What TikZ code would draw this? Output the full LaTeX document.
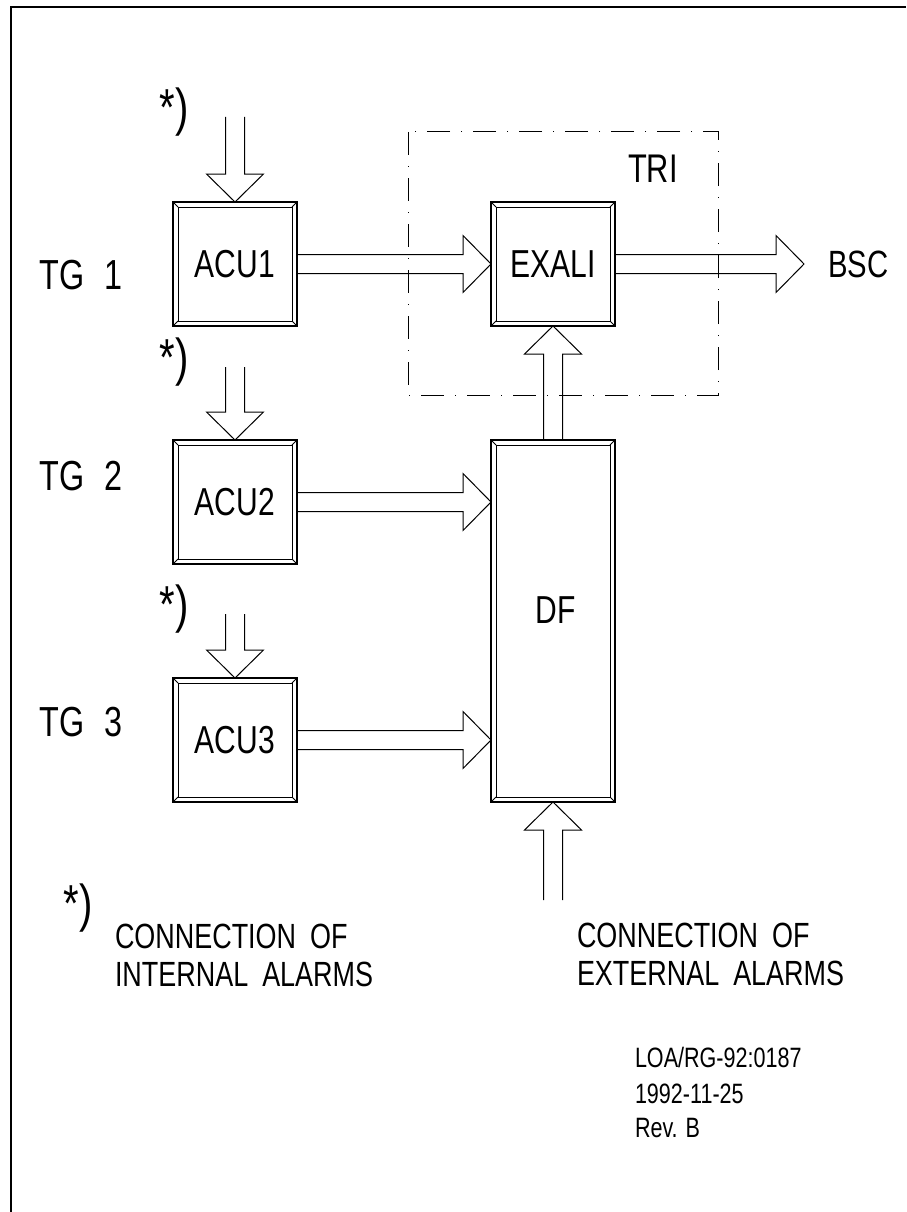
\documentclass[tikz,border=0pt]{standalone}
\usepackage{fontspec}
\setmainfont{Liberation Sans}[FakeStretch=0.77]
\usetikzlibrary{calc}

\tikzset{
  cadbox/.style={draw, line width=1.6pt, minimum width=124pt, minimum height=124pt,
    inner sep=0pt, outer sep=0pt, font=\fontsize{39}{39}\selectfont},
  lbl/.style={inner sep=0pt, outer sep=0pt},
  biglbl/.style={lbl, font=\fontsize{42}{42}\selectfont},
  midlbl/.style={lbl, font=\fontsize{35}{35}\selectfont},
  smalllbl/.style={lbl, font=\fontsize{28}{28}\selectfont},
}

% hollow block arrow from #1 to #2
\newcommand{\fatarrow}[2]{%
  \coordinate (fa-s) at (#1);
  \coordinate (fa-e) at (#2);
  \coordinate (fa-b) at ($(fa-e)!28pt!(fa-s)$);
  \draw ($(fa-s)!9.5pt!90:(fa-e)$) -- ($(fa-b)!9.5pt!90:(fa-e)$)
    -- ($(fa-b)!28.5pt!90:(fa-e)$) -- (fa-e) -- ($(fa-b)!28.5pt!-90:(fa-e)$)
    -- ($(fa-b)!9.5pt!-90:(fa-e)$) -- ($(fa-s)!9.5pt!-90:(fa-e)$);
}

\begin{document}
\begin{tikzpicture}[x=1pt,y=-1pt,line width=1pt]
\useasboundingbox (0,0) rectangle (906,1212);

% frame
\draw[line width=2.6pt] (11,1212) -- (11,7) -- (906,7);

% TRI area
\draw[dash pattern=on 23pt off 11pt on 1pt off 11pt] (408,132) rectangle (718,395);
\node[lbl, anchor=base west, font=\fontsize{40}{40}\selectfont] (tri) at (628,182) {TRI};

% boxes
\node[cadbox] (acu1) at (235,264) {ACU1};
\node[cadbox] (acu2) at (235,502) {ACU2};
\node[cadbox] (acu3) at (235,740) {ACU3};
\node[cadbox] (exali) at (553,264) {EXALI};
\node[cadbox, minimum height=362pt] (df) at (553,621) {};
\node[lbl, font=\fontsize{39}{39}\selectfont] (dftext) at (556,610) {DF};

% inner frames with corner bevels
\foreach \n in {acu1,acu2,acu3,exali,df} {
  \draw ([shift={(5,5)}]\n.north west) rectangle ([shift={(-5,-5)}]\n.south east);
  \draw (\n.north west) -- ++(5,5);
  \draw (\n.north east) -- ++(-5,5);
  \draw (\n.south west) -- ++(5,-5);
  \draw (\n.south east) -- ++(-5,-5);
}

% TG labels
\node[biglbl] (tg1) at (81,275) {TG\hspace{20pt}1};
\node[biglbl] (tg2) at (81,476) {TG\hspace{20pt}2};
\node[biglbl] (tg3) at (81,722) {TG\hspace{20pt}3};

% internal alarm inputs
\foreach \i/\y in {1/112,2/362,3/609} {
  \node[lbl, font=\fontsize{52}{52}\selectfont] (star\i) at (174,\y) {*)};
  \coordinate (in\i) at (235,\y+5);
}
\fatarrow{in1}{acu1.north}
\fatarrow{in2}{acu2.north}
\fatarrow{in3}{acu3.north}

% signal arrows
\fatarrow{acu1.east}{exali.west}
\fatarrow{acu2.east}{df.west |- acu2.east}
\fatarrow{acu3.east}{df.west |- acu3.east}
\fatarrow{df.north}{exali.south}

\coordinate (ext) at (553,900);
\fatarrow{ext}{df.south}

\coordinate (out) at (804,264);
\fatarrow{exali.east}{out}
\node[lbl, anchor=base west, font=\fontsize{38}{38}\selectfont] (bsc) at (828,277) {BSC};

% legend
\node[lbl, font=\fontsize{52}{52}\selectfont] (starlg) at (78,908) {*)};
\node[midlbl, anchor=base west] (int1) at (115,948) {CONNECTION\hspace{14pt}OF};
\node[midlbl, anchor=base west] (int2) at (115,986) {INTERNAL\hspace{14pt}ALARMS};
\node[midlbl, anchor=base west] (ext1) at (577,947) {CONNECTION\hspace{14pt}OF};
\node[midlbl, anchor=base west] (ext2) at (577,985) {EXTERNAL\hspace{14pt}ALARMS};

% document reference
\node[smalllbl, anchor=base west] (ref1) at (635,1067) {LOA/RG-92:0187};
\node[smalllbl, anchor=base west] (ref2) at (635,1103) {1992-11-25};
\node[smalllbl, anchor=base west] (ref3) at (635,1137) {Rev. B};

\end{tikzpicture}
\end{document}
